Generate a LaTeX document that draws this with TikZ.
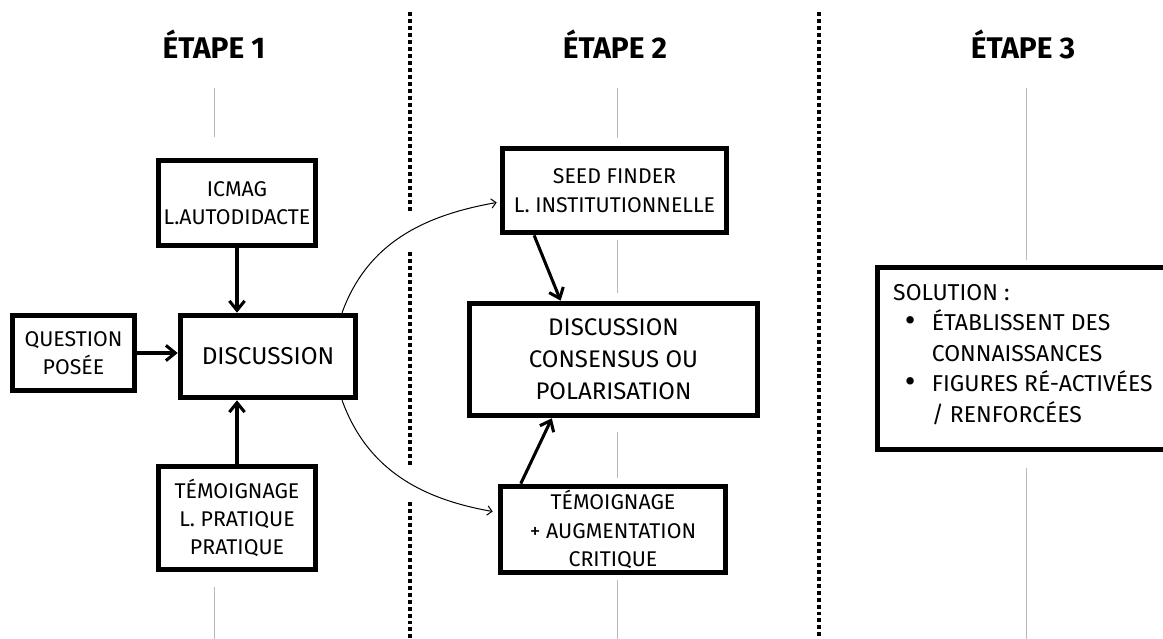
\documentclass[tikz,border=0pt]{standalone}
\usepackage{fontspec}
\setmainfont{Fira Sans}
\usetikzlibrary{arrows.meta,calc}

\begin{document}
\begin{tikzpicture}[x=0.03cm,y=-0.03cm,
  box/.style={draw,line width=4.8pt,fill=white,align=center,inner sep=0pt,font=\fontsize{18.2}{24.2}\selectfont},
  etape/.style={font=\fontsize{25.5}{30}\selectfont\bfseries,anchor=base},
  axe/.style={gray!55,line width=0.5pt},
  sep/.style={line width=3.4pt,dash pattern=on 3.4pt off 2.55pt},
  fleche/.style={line width=2.6pt,-{Straight Barb[length=8pt,width=13pt]}},
  courbe/.style={line width=0.85pt,-{Straight Barb[length=4pt,width=8pt]}}]
\useasboundingbox (0,0) rectangle (1163,639);
\clip (0,0) rectangle (1163,639);

% axes des colonnes
\draw[axe] (214,88) -- (214,137);
\draw[axe] (214,587) -- (214,639);
\draw[axe] (617,88) -- (617,138);
\draw[axe] (617,240) -- (617,293);
\draw[axe] (617,432) -- (617,478);
\draw[axe] (617,580) -- (617,639);
\draw[axe] (1026,88) -- (1026,260);
\draw[axe] (1026,468) -- (1026,639);

% separateurs
\draw[sep] (410,12) -- (410,213);
\draw[sep] (410,252) -- (410,467);
\draw[sep] (410,502) -- (410,639);
\draw[sep] (819,12) -- (819,639);

% titres
\node[etape] (e1) at (214,58) {ÉTAPE 1};
\node[etape] (e2) at (615,58) {ÉTAPE 2};
\node[etape] (e3) at (1023,58) {ÉTAPE 3};

% etape 1
\node[box,minimum width=4.71cm,minimum height=2.55cm] (icmag) at (237,203) {ICMAG\\L.AUTODIDACTE};
\node[box,minimum width=3.66cm,minimum height=2.25cm] (question) at (73.5,353) {QUESTION\\POSÉE};
\node[box,minimum width=5.25cm,minimum height=2.46cm,font=\fontsize{20.8}{24}\selectfont] (disc) at (268,356.5) {DISCUSSION};
\node[box,minimum width=4.71cm,minimum height=3.09cm] (temoin) at (237,518) {TÉMOIGNAGE\\L. PRATIQUE\\PRATIQUE};

% etape 2
\node[box,minimum width=6.72cm,minimum height=2.52cm] (seed) at (614.5,190.5) {SEED FINDER\\L. INSTITUTIONNELLE};
\node[box,minimum width=8.64cm,minimum height=3.36cm,font=\fontsize{20.5}{27.2}\selectfont] (centre) at (613.5,359.5) {DISCUSSION\\CONSENSUS OU\\POLARISATION};
\node[box,minimum width=6.75cm,minimum height=2.58cm] (critique) at (613,529.5) {TÉMOIGNAGE\\+ AUGMENTATION\\CRITIQUE};

% etape 3 (cadre coupe a droite)
\node[box,draw=none,outer sep=0pt,minimum width=11cm,minimum height=5.46cm] (solution) at (1061,358.5) {};
\draw[line width=4.8pt] (solution.north east) -- (solution.north west) -- (solution.south west) -- (solution.south east);
\node[anchor=north west,align=left,inner sep=0pt,font=\fontsize{19.6}{26}\selectfont] (soltext) at (893,284) {SOLUTION :\\
\hspace*{10pt}\makebox[23pt][l]{\raisebox{-1pt}{\fontsize{28}{26}\selectfont•}}ÉTABLISSENT DES\\
\hspace*{33pt}CONNAISSANCES\\
\hspace*{10pt}\makebox[23pt][l]{\raisebox{-1pt}{\fontsize{28}{26}\selectfont•}}FIGURES RÉ-ACTIVÉES\\
\hspace*{33pt}/ RENFORCÉES};

% fleches
\draw[fleche] (icmag.south) -- (icmag.south |- disc.north);
\draw[fleche] (question.east) -- (question.east -| disc.west);
\draw[fleche] (temoin.north) -- (temoin.north |- disc.south);
\draw[fleche] ($(seed.south west)!0.15!(seed.south east)$) -- ($(centre.north west)!0.32!(centre.north east)$);
\draw[fleche] ($(critique.north west)!0.1!(critique.north east)$) -- ($(centre.south west)!0.29!(centre.south east)$);
\draw[courbe] ($(disc.north west)!0.91!(disc.north east)$) to[out=70,in=190] ($(seed.west)+(-3,12)$);
\draw[courbe] ($(disc.south west)!0.91!(disc.south east)$) to[out=-70,in=170] ($(critique.west)+(-5,-18)$);
\end{tikzpicture}
\end{document}
